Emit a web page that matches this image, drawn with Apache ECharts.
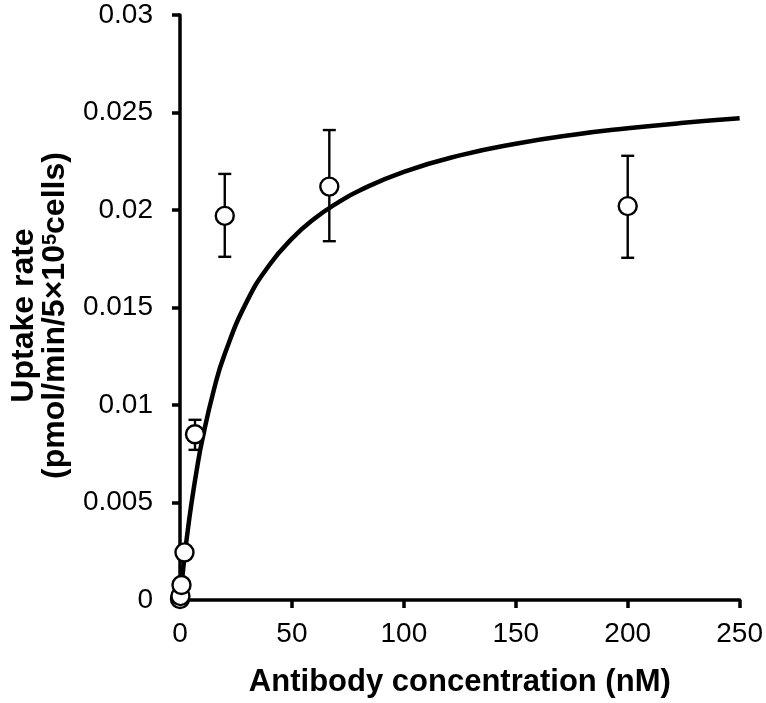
<!DOCTYPE html>
<html>
<head>
<meta charset="utf-8">
<script src="https://cdn.jsdelivr.net/npm/echarts@6/dist/echarts.min.js"></script>
<style>html,body{margin:0;padding:0;background:#fff}#c{width:766px;height:703px}</style>
</head>
<body>
<div id="c"></div>
<script>
// Measured points
var concentration = [0, 0.2, 0.67, 2, 6.7, 20, 66.7, 200];
var uptake = [0.00005, 0.0002, 0.00077, 0.00244, 0.0085, 0.0197, 0.0212, 0.0202];
var errLow = [0, 0, 0, 0, 0.0077, 0.0176, 0.0184, 0.01755];
var errHigh = [0, 0, 0, 0, 0.00924, 0.02185, 0.0241, 0.02278];
// Fitted curve
var curveX = [0, 1, 2, 3, 5, 7.5, 10, 15, 20, 30, 40, 50, 60, 70, 80, 100, 125, 150, 175, 200, 225, 250];
var curveY = [0, 0.00114, 0.00218, 0.00315, 0.00486, 0.00669, 0.00824, 0.01072, 0.01262, 0.01534, 0.01719, 0.01853, 0.01955, 0.02034, 0.02099, 0.02196, 0.0228, 0.0234, 0.02385, 0.02419, 0.02447, 0.0247];
var xTicks = [0, 50, 100, 150, 200, 250];
var yTicks = [0, 0.005, 0.01, 0.015, 0.02, 0.025, 0.03];

var chart = echarts.init(document.getElementById('c'));
var font = 'Liberation Sans, Arial, sans-serif';
var errData = [];
for (var i = 0; i < concentration.length; i++) {
  if (errHigh[i] > 0) errData.push([concentration[i], errLow[i], errHigh[i]]);
}
chart.setOption({
  animation: false,
  backgroundColor: '#fff',
  grid: { left: 180, right: 25, top: 15, bottom: 103, containLabel: false },
  xAxis: {
    type: 'value', min: 0, max: 250, interval: 50,
    axisLine: { show: true, lineStyle: { color: '#000', width: 3.5 } },
    axisTick: { show: true, length: 8, lineStyle: { color: '#000', width: 3.5 } },
    axisLabel: { color: '#000', fontSize: 28, fontFamily: font, margin: 20,
      formatter: function (v) { return xTicks.indexOf(v) >= 0 ? String(v) : ''; } },
    splitLine: { show: false },
    name: 'Antibody concentration (nM)', nameLocation: 'middle', nameGap: 67,
    nameTextStyle: { color: '#000', fontSize: 31, fontWeight: 'bold', fontFamily: font }
  },
  yAxis: {
    type: 'value', min: 0, max: 0.03, interval: 0.005,
    axisLine: { show: true, lineStyle: { color: '#000', width: 3.5 } },
    axisTick: { show: true, length: 8, lineStyle: { color: '#000', width: 3.5 } },
    axisLabel: { color: '#000', fontSize: 28, fontFamily: font, margin: 27,
      formatter: function (v) {
        for (var k = 0; k < yTicks.length; k++) if (Math.abs(yTicks[k] - v) < 1e-9) return String(yTicks[k]);
        return '';
      } },
    splitLine: { show: false },
    name: '{b|Uptake rate}\n{b|(pmol/min/5×10}{s|5}{b|cells)}',
    nameLocation: 'middle', nameRotate: 90, nameGap: 109,
    nameTextStyle: {
      color: '#000', fontFamily: font, padding: [0, 16, 0, 0],
      rich: {
        b: { fontSize: 32, fontWeight: 'bold', fontFamily: font, color: '#000', lineHeight: 31 },
        s: { fontSize: 20, fontWeight: 'bold', fontFamily: font, color: '#000', verticalAlign: 'top', lineHeight: 31, padding: [0, 0, 10, 0] }
      }
    }
  },
  series: [
    {
      type: 'line', data: curveX.map(function (x, i) { return [x, curveY[i]]; }),
      smooth: true, showSymbol: false, symbol: 'none',
      lineStyle: { color: '#000', width: 4.5 }, z: 2
    },
    {
      type: 'custom', data: errData, z: 3,
      renderItem: function (params, api) {
        var x = api.value(0);
        var lo = api.coord([x, api.value(1)]);
        var hi = api.coord([x, api.value(2)]);
        var w = 6.5;
        var st = { stroke: '#000', lineWidth: 2.4 };
        return { type: 'group', children: [
          { type: 'line', shape: { x1: lo[0], y1: lo[1], x2: hi[0], y2: hi[1] }, style: st },
          { type: 'line', shape: { x1: lo[0] - w, y1: lo[1], x2: lo[0] + w, y2: lo[1] }, style: st },
          { type: 'line', shape: { x1: hi[0] - w, y1: hi[1], x2: hi[0] + w, y2: hi[1] }, style: st }
        ] };
      }
    },
    {
      type: 'scatter', data: concentration.map(function (x, i) { return [x, uptake[i]]; }),
      symbol: 'circle', symbolSize: 18, z: 5,
      itemStyle: { color: '#fff', borderColor: '#000', borderWidth: 2.4, opacity: 1 }
    }
  ]
});
</script>
</body>
</html>
